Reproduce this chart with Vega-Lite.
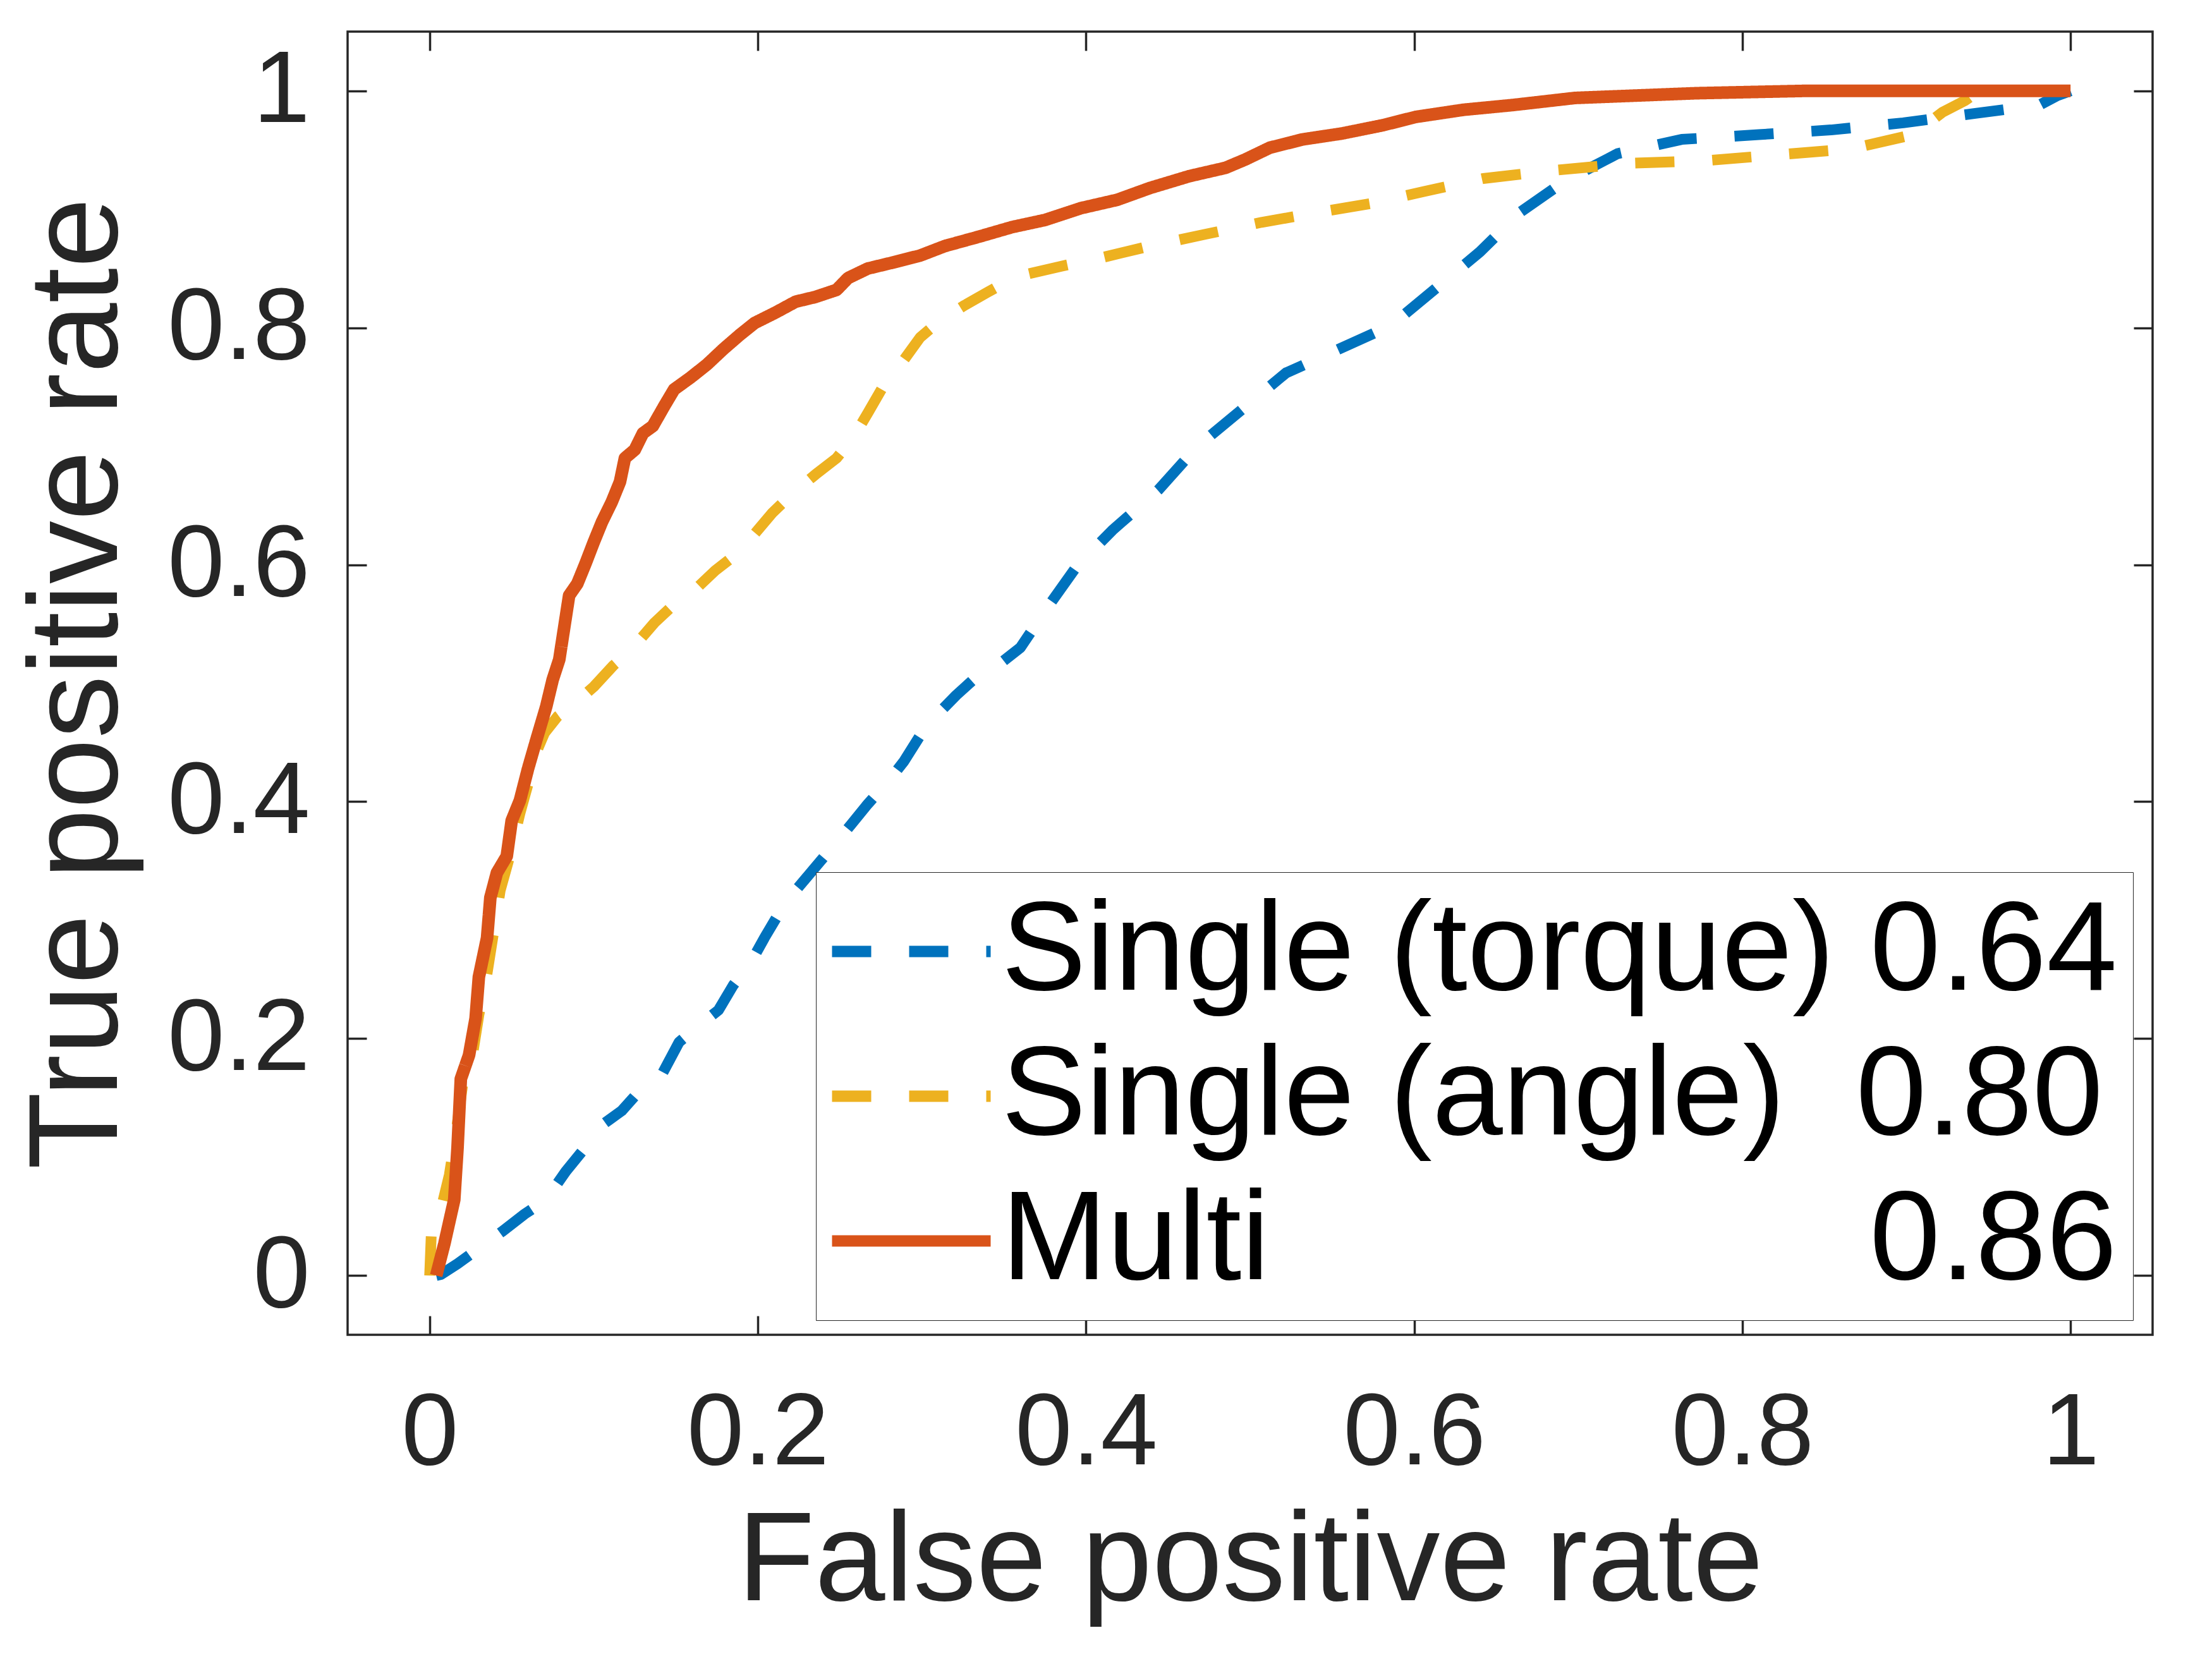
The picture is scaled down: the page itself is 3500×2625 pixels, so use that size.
{
  "$schema": "https://vega.github.io/schema/vega-lite/v6.json",
  "description": "ROC curves for single and multi sensor classifiers.",
  "width": 2856,
  "height": 2062,
  "autosize": {"type": "none"},
  "padding": {"left": 550, "top": 50, "right": 94, "bottom": 513},
  "background": "white",
  "data": {
    "values": [
      {"model": "torque", "fpr": 0.004, "tpr": 0.0},
      {"model": "torque", "fpr": 0.007, "tpr": 0.001},
      {"model": "torque", "fpr": 0.017, "tpr": 0.010},
      {"model": "torque", "fpr": 0.034, "tpr": 0.027},
      {"model": "torque", "fpr": 0.044, "tpr": 0.037},
      {"model": "torque", "fpr": 0.058, "tpr": 0.052},
      {"model": "torque", "fpr": 0.071, "tpr": 0.064},
      {"model": "torque", "fpr": 0.083, "tpr": 0.088},
      {"model": "torque", "fpr": 0.093, "tpr": 0.105},
      {"model": "torque", "fpr": 0.104, "tpr": 0.126},
      {"model": "torque", "fpr": 0.117, "tpr": 0.139},
      {"model": "torque", "fpr": 0.128, "tpr": 0.156},
      {"model": "torque", "fpr": 0.142, "tpr": 0.171},
      {"model": "torque", "fpr": 0.152, "tpr": 0.197},
      {"model": "torque", "fpr": 0.164, "tpr": 0.211},
      {"model": "torque", "fpr": 0.176, "tpr": 0.224},
      {"model": "torque", "fpr": 0.185, "tpr": 0.245},
      {"model": "torque", "fpr": 0.196, "tpr": 0.265},
      {"model": "torque", "fpr": 0.204, "tpr": 0.285},
      {"model": "torque", "fpr": 0.213, "tpr": 0.306},
      {"model": "torque", "fpr": 0.223, "tpr": 0.325},
      {"model": "torque", "fpr": 0.234, "tpr": 0.343},
      {"model": "torque", "fpr": 0.245, "tpr": 0.361},
      {"model": "torque", "fpr": 0.257, "tpr": 0.381},
      {"model": "torque", "fpr": 0.267, "tpr": 0.398},
      {"model": "torque", "fpr": 0.280, "tpr": 0.418},
      {"model": "torque", "fpr": 0.289, "tpr": 0.434},
      {"model": "torque", "fpr": 0.299, "tpr": 0.456},
      {"model": "torque", "fpr": 0.309, "tpr": 0.473},
      {"model": "torque", "fpr": 0.321, "tpr": 0.490},
      {"model": "torque", "fpr": 0.333, "tpr": 0.505},
      {"model": "torque", "fpr": 0.348, "tpr": 0.517},
      {"model": "torque", "fpr": 0.360, "tpr": 0.530},
      {"model": "torque", "fpr": 0.375, "tpr": 0.561},
      {"model": "torque", "fpr": 0.394, "tpr": 0.598},
      {"model": "torque", "fpr": 0.416, "tpr": 0.629},
      {"model": "torque", "fpr": 0.444, "tpr": 0.663},
      {"model": "torque", "fpr": 0.468, "tpr": 0.700},
      {"model": "torque", "fpr": 0.495, "tpr": 0.731},
      {"model": "torque", "fpr": 0.522, "tpr": 0.762},
      {"model": "torque", "fpr": 0.551, "tpr": 0.780},
      {"model": "torque", "fpr": 0.586, "tpr": 0.802},
      {"model": "torque", "fpr": 0.613, "tpr": 0.833},
      {"model": "torque", "fpr": 0.640, "tpr": 0.864},
      {"model": "torque", "fpr": 0.665, "tpr": 0.898},
      {"model": "torque", "fpr": 0.692, "tpr": 0.924},
      {"model": "torque", "fpr": 0.724, "tpr": 0.947},
      {"model": "torque", "fpr": 0.763, "tpr": 0.959},
      {"model": "torque", "fpr": 0.810, "tpr": 0.963},
      {"model": "torque", "fpr": 0.854, "tpr": 0.967},
      {"model": "torque", "fpr": 0.898, "tpr": 0.973},
      {"model": "torque", "fpr": 0.942, "tpr": 0.981},
      {"model": "torque", "fpr": 0.981, "tpr": 0.988},
      {"model": "torque", "fpr": 0.992, "tpr": 0.996},
      {"model": "torque", "fpr": 1.0, "tpr": 1.0},
      {"model": "angle", "fpr": 0.0, "tpr": 0.0},
      {"model": "angle", "fpr": 0.001, "tpr": 0.035},
      {"model": "angle", "fpr": 0.004, "tpr": 0.045},
      {"model": "angle", "fpr": 0.008, "tpr": 0.062},
      {"model": "angle", "fpr": 0.012, "tpr": 0.085},
      {"model": "angle", "fpr": 0.016, "tpr": 0.120},
      {"model": "angle", "fpr": 0.020, "tpr": 0.160},
      {"model": "angle", "fpr": 0.026, "tpr": 0.185},
      {"model": "angle", "fpr": 0.030, "tpr": 0.220},
      {"model": "angle", "fpr": 0.035, "tpr": 0.255},
      {"model": "angle", "fpr": 0.039, "tpr": 0.290},
      {"model": "angle", "fpr": 0.043, "tpr": 0.325},
      {"model": "angle", "fpr": 0.049, "tpr": 0.355},
      {"model": "angle", "fpr": 0.055, "tpr": 0.390},
      {"model": "angle", "fpr": 0.061, "tpr": 0.420},
      {"model": "angle", "fpr": 0.066, "tpr": 0.445},
      {"model": "angle", "fpr": 0.070, "tpr": 0.458},
      {"model": "angle", "fpr": 0.078, "tpr": 0.472},
      {"model": "angle", "fpr": 0.087, "tpr": 0.481},
      {"model": "angle", "fpr": 0.100, "tpr": 0.497},
      {"model": "angle", "fpr": 0.112, "tpr": 0.515},
      {"model": "angle", "fpr": 0.122, "tpr": 0.527},
      {"model": "angle", "fpr": 0.137, "tpr": 0.551},
      {"model": "angle", "fpr": 0.147, "tpr": 0.564},
      {"model": "angle", "fpr": 0.161, "tpr": 0.578},
      {"model": "angle", "fpr": 0.174, "tpr": 0.595},
      {"model": "angle", "fpr": 0.186, "tpr": 0.608},
      {"model": "angle", "fpr": 0.198, "tpr": 0.626},
      {"model": "angle", "fpr": 0.209, "tpr": 0.644},
      {"model": "angle", "fpr": 0.221, "tpr": 0.660},
      {"model": "angle", "fpr": 0.235, "tpr": 0.676},
      {"model": "angle", "fpr": 0.248, "tpr": 0.690},
      {"model": "angle", "fpr": 0.258, "tpr": 0.707},
      {"model": "angle", "fpr": 0.267, "tpr": 0.728},
      {"model": "angle", "fpr": 0.277, "tpr": 0.752},
      {"model": "angle", "fpr": 0.287, "tpr": 0.769},
      {"model": "angle", "fpr": 0.299, "tpr": 0.792},
      {"model": "angle", "fpr": 0.311, "tpr": 0.806},
      {"model": "angle", "fpr": 0.326, "tpr": 0.819},
      {"model": "angle", "fpr": 0.340, "tpr": 0.830},
      {"model": "angle", "fpr": 0.357, "tpr": 0.843},
      {"model": "angle", "fpr": 0.385, "tpr": 0.852},
      {"model": "angle", "fpr": 0.409, "tpr": 0.859},
      {"model": "angle", "fpr": 0.439, "tpr": 0.869},
      {"model": "angle", "fpr": 0.473, "tpr": 0.879},
      {"model": "angle", "fpr": 0.507, "tpr": 0.889},
      {"model": "angle", "fpr": 0.544, "tpr": 0.898},
      {"model": "angle", "fpr": 0.574, "tpr": 0.905},
      {"model": "angle", "fpr": 0.606, "tpr": 0.915},
      {"model": "angle", "fpr": 0.642, "tpr": 0.926},
      {"model": "angle", "fpr": 0.686, "tpr": 0.933},
      {"model": "angle", "fpr": 0.733, "tpr": 0.939},
      {"model": "angle", "fpr": 0.777, "tpr": 0.941},
      {"model": "angle", "fpr": 0.822, "tpr": 0.946},
      {"model": "angle", "fpr": 0.866, "tpr": 0.951},
      {"model": "angle", "fpr": 0.904, "tpr": 0.963},
      {"model": "angle", "fpr": 0.922, "tpr": 0.982},
      {"model": "angle", "fpr": 0.936, "tpr": 0.992},
      {"model": "angle", "fpr": 0.944, "tpr": 1.0},
      {"model": "angle", "fpr": 1.0, "tpr": 1.0},
      {"model": "multi", "fpr": 0.004, "tpr": 0.0},
      {"model": "multi", "fpr": 0.009, "tpr": 0.027},
      {"model": "multi", "fpr": 0.015, "tpr": 0.064},
      {"model": "multi", "fpr": 0.017, "tpr": 0.108},
      {"model": "multi", "fpr": 0.019, "tpr": 0.166},
      {"model": "multi", "fpr": 0.024, "tpr": 0.186},
      {"model": "multi", "fpr": 0.028, "tpr": 0.217},
      {"model": "multi", "fpr": 0.030, "tpr": 0.252},
      {"model": "multi", "fpr": 0.035, "tpr": 0.285},
      {"model": "multi", "fpr": 0.037, "tpr": 0.319},
      {"model": "multi", "fpr": 0.041, "tpr": 0.340},
      {"model": "multi", "fpr": 0.047, "tpr": 0.354},
      {"model": "multi", "fpr": 0.050, "tpr": 0.384},
      {"model": "multi", "fpr": 0.055, "tpr": 0.401},
      {"model": "multi", "fpr": 0.060, "tpr": 0.428},
      {"model": "multi", "fpr": 0.065, "tpr": 0.452},
      {"model": "multi", "fpr": 0.071, "tpr": 0.480},
      {"model": "multi", "fpr": 0.075, "tpr": 0.503},
      {"model": "multi", "fpr": 0.079, "tpr": 0.520},
      {"model": "multi", "fpr": 0.082, "tpr": 0.547},
      {"model": "multi", "fpr": 0.085, "tpr": 0.574},
      {"model": "multi", "fpr": 0.090, "tpr": 0.584},
      {"model": "multi", "fpr": 0.095, "tpr": 0.601},
      {"model": "multi", "fpr": 0.100, "tpr": 0.619},
      {"model": "multi", "fpr": 0.105, "tpr": 0.636},
      {"model": "multi", "fpr": 0.111, "tpr": 0.653},
      {"model": "multi", "fpr": 0.116, "tpr": 0.670},
      {"model": "multi", "fpr": 0.119, "tpr": 0.690},
      {"model": "multi", "fpr": 0.125, "tpr": 0.697},
      {"model": "multi", "fpr": 0.130, "tpr": 0.711},
      {"model": "multi", "fpr": 0.136, "tpr": 0.717},
      {"model": "multi", "fpr": 0.143, "tpr": 0.734},
      {"model": "multi", "fpr": 0.149, "tpr": 0.748},
      {"model": "multi", "fpr": 0.159, "tpr": 0.758},
      {"model": "multi", "fpr": 0.169, "tpr": 0.769},
      {"model": "multi", "fpr": 0.179, "tpr": 0.782},
      {"model": "multi", "fpr": 0.189, "tpr": 0.794},
      {"model": "multi", "fpr": 0.198, "tpr": 0.804},
      {"model": "multi", "fpr": 0.211, "tpr": 0.813},
      {"model": "multi", "fpr": 0.223, "tpr": 0.822},
      {"model": "multi", "fpr": 0.235, "tpr": 0.826},
      {"model": "multi", "fpr": 0.248, "tpr": 0.832},
      {"model": "multi", "fpr": 0.255, "tpr": 0.842},
      {"model": "multi", "fpr": 0.267, "tpr": 0.850},
      {"model": "multi", "fpr": 0.282, "tpr": 0.855},
      {"model": "multi", "fpr": 0.299, "tpr": 0.861},
      {"model": "multi", "fpr": 0.314, "tpr": 0.869},
      {"model": "multi", "fpr": 0.335, "tpr": 0.877},
      {"model": "multi", "fpr": 0.355, "tpr": 0.885},
      {"model": "multi", "fpr": 0.375, "tpr": 0.891},
      {"model": "multi", "fpr": 0.397, "tpr": 0.901},
      {"model": "multi", "fpr": 0.419, "tpr": 0.908},
      {"model": "multi", "fpr": 0.439, "tpr": 0.918},
      {"model": "multi", "fpr": 0.463, "tpr": 0.928},
      {"model": "multi", "fpr": 0.485, "tpr": 0.935},
      {"model": "multi", "fpr": 0.497, "tpr": 0.942},
      {"model": "multi", "fpr": 0.512, "tpr": 0.952},
      {"model": "multi", "fpr": 0.532, "tpr": 0.959},
      {"model": "multi", "fpr": 0.556, "tpr": 0.964},
      {"model": "multi", "fpr": 0.581, "tpr": 0.971},
      {"model": "multi", "fpr": 0.601, "tpr": 0.978},
      {"model": "multi", "fpr": 0.630, "tpr": 0.984},
      {"model": "multi", "fpr": 0.660, "tpr": 0.988},
      {"model": "multi", "fpr": 0.698, "tpr": 0.994},
      {"model": "multi", "fpr": 0.772, "tpr": 0.998},
      {"model": "multi", "fpr": 0.839, "tpr": 1.0},
      {"model": "multi", "fpr": 1.0, "tpr": 1.0}
    ]
  },
  "encoding": {
    "color": {
      "field": "model",
      "type": "nominal",
      "scale": {"domain": ["torque", "angle", "multi"], "range": ["#0072BD", "#EDB120", "#D95319"]},
      "legend": {
        "title": null,
        "orient": "none",
        "legendX": 741,
        "legendY": 1330,
        "direction": "vertical",
        "symbolType": "M-2.51,0H2.51",
        "symbolSize": 10000,
        "symbolStrokeWidth": 18,
        "symbolOffset": 25.5,
        "labelOffset": 42,
        "rowPadding": 27,
        "padding": 25,
        "strokeColor": "#262626",
        "fillColor": "white",
        "labelFont": "Liberation Sans",
        "labelFontSize": 201,
        "labelColor": "black",
        "labelLimit": 0,
        "labelExpr": "datum.label == 'torque' ? 'Single (torque) 0.64' : datum.label == 'angle' ? 'Single (angle)\u00a0\u00a00.80' : 'Multi\u00a0\u00a0\u00a0\u00a0\u00a0\u00a0\u00a0\u00a0\u00a0\u00a0\u00a0\u00a0\u00a0\u00a0\u00a0\u00a0\u00a00.86'"
      }
    },
    "strokeDash": {
      "field": "model",
      "type": "nominal",
      "scale": {"domain": ["torque", "angle", "multi"], "range": [[62, 60], [62, 60], [1, 0]]}
    }
  },
  "layer": [
    {
      "transform": [{"filter": "datum.model != 'multi'"}],
      "mark": {"type": "line", "strokeWidth": 17, "strokeCap": "butt", "strokeJoin": "round"},
      "encoding": {
        "x": {
          "field": "fpr",
          "type": "quantitative",
          "scale": {"domain": [-0.05, 1.05], "nice": false, "zero": false},
          "axis": {
            "orient": "bottom",
            "values": [0, 0.2, 0.4, 0.6, 0.8, 1],
            "format": "~g",
            "title": "False positive rate",
            "labelPadding": 106,
            "titleY": 419,
            "titleBaseline": "alphabetic"
          }
        },
        "y": {
          "field": "tpr",
          "type": "quantitative",
          "scale": {"domain": [-0.05, 1.05], "nice": false, "zero": false},
          "axis": {
            "orient": "left",
            "values": [0, 0.2, 0.4, 0.6, 0.8, 1],
            "format": "~g",
            "title": "True positive rate",
            "labelPadding": 90,
            "titleX": -366,
            "titleBaseline": "alphabetic"
          }
        }
      }
    },
    {
      "transform": [{"filter": "datum.model == 'multi'"}],
      "mark": {"type": "line", "strokeWidth": 20, "strokeCap": "butt", "strokeJoin": "round"},
      "encoding": {
        "x": {
          "field": "fpr",
          "type": "quantitative",
          "scale": {"domain": [-0.05, 1.05], "nice": false, "zero": false},
          "axis": {"orient": "top", "values": [0, 0.2, 0.4, 0.6, 0.8, 1], "labels": false, "title": null}
        },
        "y": {
          "field": "tpr",
          "type": "quantitative",
          "scale": {"domain": [-0.05, 1.05], "nice": false, "zero": false},
          "axis": {"orient": "right", "values": [0, 0.2, 0.4, 0.6, 0.8, 1], "labels": false, "title": null}
        }
      }
    }
  ],
  "resolve": {"axis": {"x": "independent", "y": "independent"}},
  "config": {
    "view": {"stroke": "#262626", "strokeWidth": 3.5},
    "axis": {
      "domain": false,
      "grid": false,
      "ticks": true,
      "tickSize": -30,
      "tickWidth": 3.5,
      "tickColor": "#262626",
      "labelFont": "Liberation Sans",
      "labelFontSize": 162,
      "labelColor": "#262626",
      "labelLimit": 0,
      "labelFlush": false,
      "labelOverlap": false,
      "titleFont": "Liberation Sans",
      "titleFontSize": 200,
      "titleFontWeight": "normal",
      "titleColor": "#262626"
    }
  }
}
